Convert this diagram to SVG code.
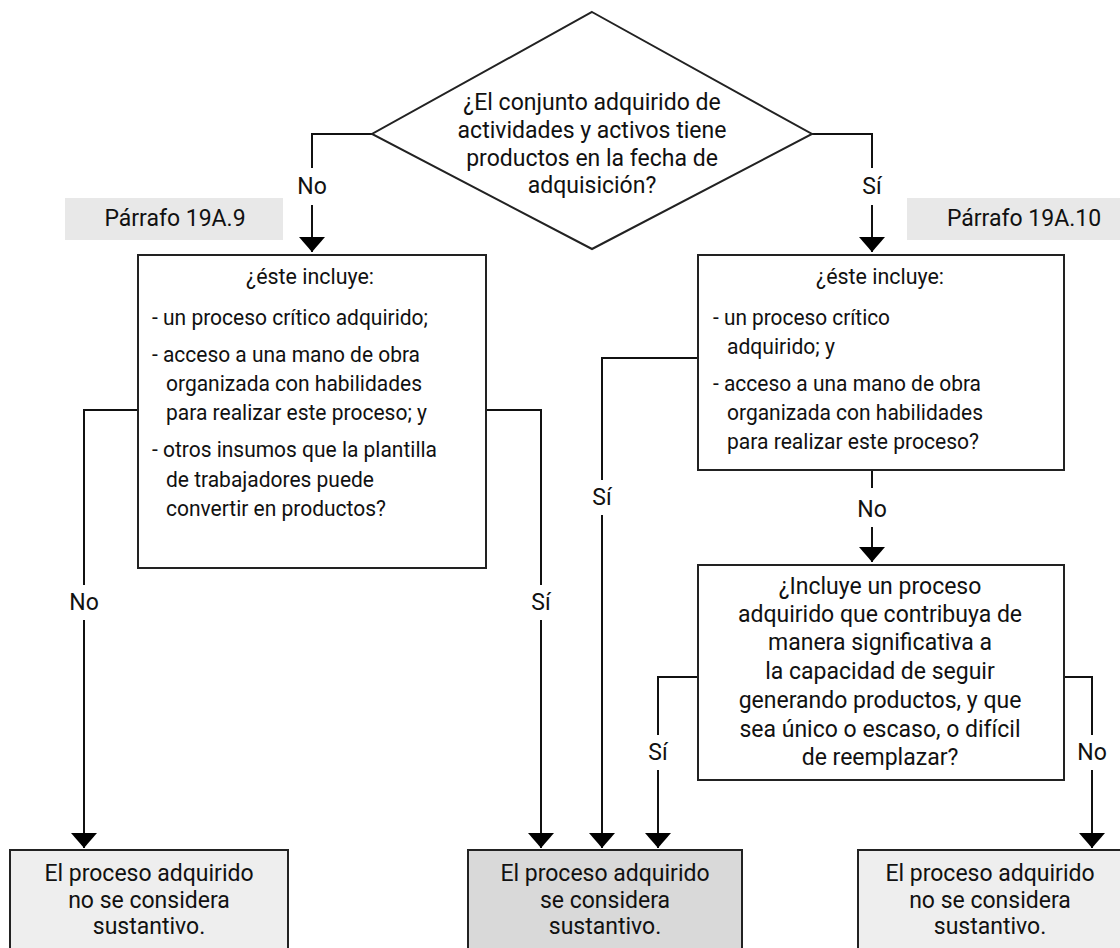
<svg xmlns="http://www.w3.org/2000/svg" width="1120" height="948" viewBox="0 0 1120 948">
<defs>
<marker id="ah" viewBox="0 0 10 10" refX="10" refY="5" markerWidth="15" markerHeight="26" markerUnits="userSpaceOnUse" orient="auto" preserveAspectRatio="none">
<path d="M0,0 L10,5 L0,10 z" fill="#000"/>
</marker>
<style>
text{font-family:Roboto,"Liberation Sans",Arial,sans-serif;font-size:23px;fill:#111}
.s{font-size:22.5px}
.c{text-anchor:middle}
.box{fill:#fff;stroke:#222;stroke-width:2}
.end{fill:#eeeeee;stroke:#222;stroke-width:2}
.endd{fill:#d9d9d9;stroke:#222;stroke-width:2}
.ref{fill:#e8e8e8}
.ln{fill:none;stroke:#111;stroke-width:2}
</style>
</defs>
<rect width="1120" height="948" fill="#fff"/>

<g id="connectors">
<path class="ln" d="M372,134 H312 V168"/>
<path class="ln" d="M312,205 V252" marker-end="url(#ah)"/>
<path class="ln" d="M812,134 H872 V168"/>
<path class="ln" d="M872,205 V252" marker-end="url(#ah)"/>
<path class="ln" d="M138,410 H84 V585"/>
<path class="ln" d="M84,620 V848" marker-end="url(#ah)"/>
<path class="ln" d="M486,410 H541 V585"/>
<path class="ln" d="M541,620 V848" marker-end="url(#ah)"/>
<path class="ln" d="M698,358 H602 V480"/>
<path class="ln" d="M602,515 V848" marker-end="url(#ah)"/>
<path class="ln" d="M872,470 V488"/>
<path class="ln" d="M872,527 V562" marker-end="url(#ah)"/>
<path class="ln" d="M698,677 H658 V735"/>
<path class="ln" d="M658,770 V848" marker-end="url(#ah)"/>
<path class="ln" d="M1064,677 H1092 V735"/>
<path class="ln" d="M1092,770 V848" marker-end="url(#ah)"/>
<text class="c" x="312" y="194">No</text>
<text class="c" x="872" y="194">Sí</text>
<text class="c" x="84" y="610">No</text>
<text class="c" x="541" y="610">Sí</text>
<text class="c" x="602" y="505">Sí</text>
<text class="c" x="872" y="517">No</text>
<text class="c" x="658" y="760">Sí</text>
<text class="c" x="1092" y="760">No</text>
</g>

<g id="ref1">
<rect class="ref" x="65" y="198" width="218" height="42"/>
<text class="c" x="175" y="226">Párrafo 19A.9</text>
</g>
<g id="ref2">
<rect class="ref" x="907" y="198" width="213" height="42"/>
<text class="c" x="1024" y="226">Párrafo 19A.10</text>
</g>

<g id="d1">
<polygon class="box" points="592,12 812,134 592,249 372,134"/>
<text class="c" x="592" y="110">¿El conjunto adquirido de</text>
<text class="c" x="592" y="138">actividades y activos tiene</text>
<text class="c" x="592" y="166">productos en la fecha de</text>
<text class="c" x="592" y="193">adquisición?</text>
</g>

<g id="q1">
<rect class="box" x="138" y="255" width="348" height="313"/>
<text class="c s" x="310" y="284" textLength="128" lengthAdjust="spacingAndGlyphs">¿éste incluye:</text>
<text class="s" x="152" y="325" textLength="276" lengthAdjust="spacingAndGlyphs">- un proceso crítico adquirido;</text>
<text class="s" x="152" y="362" textLength="268" lengthAdjust="spacingAndGlyphs">- acceso a una mano de obra</text>
<text class="s" x="166" y="391" textLength="256" lengthAdjust="spacingAndGlyphs">organizada con habilidades</text>
<text class="s" x="166" y="420" textLength="261" lengthAdjust="spacingAndGlyphs">para realizar este proceso; y</text>
<text class="s" x="152" y="457" textLength="285" lengthAdjust="spacingAndGlyphs">- otros insumos que la plantilla</text>
<text class="s" x="166" y="487" textLength="208" lengthAdjust="spacingAndGlyphs">de trabajadores puede</text>
<text class="s" x="166" y="516" textLength="220" lengthAdjust="spacingAndGlyphs">convertir en productos?</text>
</g>

<g id="q2">
<rect class="box" x="698" y="255" width="366" height="215"/>
<text class="c s" x="880" y="284" textLength="128" lengthAdjust="spacingAndGlyphs">¿éste incluye:</text>
<text class="s" x="713" y="325" textLength="177" lengthAdjust="spacingAndGlyphs">- un proceso crítico</text>
<text class="s" x="727" y="354" textLength="108" lengthAdjust="spacingAndGlyphs">adquirido; y</text>
<text class="s" x="713" y="391" textLength="268" lengthAdjust="spacingAndGlyphs">- acceso a una mano de obra</text>
<text class="s" x="727" y="420" textLength="256" lengthAdjust="spacingAndGlyphs">organizada con habilidades</text>
<text class="s" x="727" y="449" textLength="252" lengthAdjust="spacingAndGlyphs">para realizar este proceso?</text>
</g>

<g id="q3">
<rect class="box" x="698" y="565" width="366" height="215"/>
<text class="c" x="880" y="594">¿Incluye un proceso</text>
<text class="c" x="880" y="622">adquirido que contribuya de</text>
<text class="c" x="880" y="650">manera significativa a</text>
<text class="c" x="880" y="679">la capacidad de seguir</text>
<text class="c" x="880" y="708">generando productos, y que</text>
<text class="c" x="880" y="737">sea único o escaso, o difícil</text>
<text class="c" x="880" y="765">de reemplazar?</text>
</g>

<g id="e1">
<rect class="end" x="10" y="850" width="278" height="110"/>
<text class="c" x="149" y="881">El proceso adquirido</text>
<text class="c" x="149" y="908">no se considera</text>
<text class="c" x="149" y="934">sustantivo.</text>
</g>
<g id="e2">
<rect class="endd" x="468" y="850" width="274" height="110"/>
<text class="c" x="605" y="881">El proceso adquirido</text>
<text class="c" x="605" y="908">se considera</text>
<text class="c" x="605" y="934">sustantivo.</text>
</g>
<g id="e3">
<rect class="end" x="858" y="850" width="272" height="110"/>
<text class="c" x="990" y="881">El proceso adquirido</text>
<text class="c" x="990" y="908">no se considera</text>
<text class="c" x="990" y="934">sustantivo.</text>
</g>
</svg>
